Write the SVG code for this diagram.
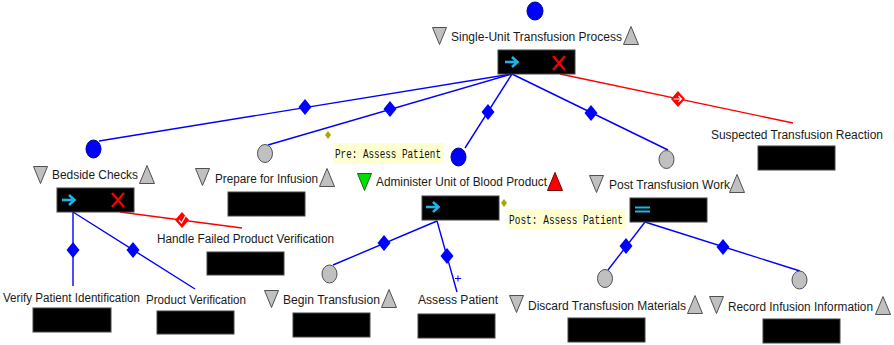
<svg xmlns="http://www.w3.org/2000/svg" xmlns:xlink="http://www.w3.org/1999/xlink" width="894" height="345" viewBox="0 0 894 345">
  <style>
    .lbl { font-family: "Liberation Sans", Arial, sans-serif; font-size: 12.5px; fill: #1a1a1a; }
    .cond { font-family: "Liberation Mono", "Courier New", monospace; font-size: 12px; fill: #111; }
    .condbg { fill: #ffffd2; }
    .box { fill: #000; stroke: #444; stroke-width: 1; }
    .gray { fill: #c0c0c0; stroke: #505050; stroke-width: 1; }
    .blue { fill: #0000ff; stroke: #000090; stroke-width: 1; }
    .edge { stroke: #0000ff; stroke-width: 1.4; fill: none; }
    .edge-red { stroke: #ff0000; stroke-width: 1.4; fill: none; }
    .seq { stroke: #1eb4e6; stroke-width: 2.6; fill: none; stroke-linecap: butt; }
    .fail { stroke: #ff0000; stroke-width: 2.2; fill: none; }
  </style>
  <defs>
    <path id="dia" d="M0,-8 L6.5,0 L0,8 L-6.5,0 Z" fill="#0000ff"/>
    <path id="dia-red" d="M0,-8 L7,0 L0,8 L-7,0 Z" fill="#ff0000"/>
    <path id="cdia" d="M0,-4 L3,0 L0,4 L-3,0 Z" fill="#a8a800"/>
    <path id="tdown" d="M0.5,0.5 H14.5 L7.5,17.5 Z"/>
    <path id="tup" d="M8,0.5 L15.5,18.5 H0.5 Z"/>
    <!-- sequential-flow arrow drawn inside a task bar, origin at the arrow's left end -->
    <g id="arrow">
      <path class="seq" d="M0,0 H12"/>
      <path class="seq" d="M7,-5 L12.5,0 L7,5"/>
    </g>
    <!-- red cross marking a failure handler -->
    <g id="cross">
      <path class="fail" d="M0,0 L12,14 M12,0 L0,14"/>
    </g>
  </defs>

  <rect width="894" height="345" fill="#ffffff"/>

  <!-- connectors -->
  <g id="connectors">
    <path class="edge" d="M512,74 L99,141"/>
    <path class="edge" d="M512,74 L268,145"/>
    <path class="edge" d="M512,74 L465,148"/>
    <path class="edge" d="M512,74 L668,150"/>
    <path class="edge-red" d="M560,74 L793,123"/>
    <path class="edge" d="M73,212 L73,286"/>
    <path class="edge" d="M73,212 L195,289"/>
    <path class="edge-red" d="M120,212 L242,228"/>
    <path class="edge" d="M437,221 L333,265"/>
    <path class="edge" d="M437,221 L457,292"/>
    <path class="edge" d="M645,222 L608,270"/>
    <path class="edge" d="M645,222 L800,271"/>

    <use href="#dia" x="305" y="107"/>
    <use href="#dia" x="390" y="109"/>
    <use href="#dia" x="488" y="112"/>
    <use href="#dia" x="591" y="113"/>
    <use href="#dia" x="73" y="250"/>
    <use href="#dia" x="133" y="250"/>
    <use href="#dia" x="384" y="243"/>
    <use href="#dia" x="447" y="256"/>
    <use href="#dia" x="626" y="246"/>
    <use href="#dia" x="723" y="247"/>

    <!-- exception handler decorators -->
    <use href="#dia-red" x="678" y="99"/>
    <path d="M673.5,99 H681 M678.5,96 L681.5,99 L678.5,102" stroke="#fff" stroke-width="1.2" fill="none"/>
    <use href="#dia-red" x="182" y="220"/>
    <path d="M179,220 L181.5,223 L185.5,216" stroke="#fff" stroke-width="1.2" fill="none"/>

    <!-- repetition mark -->
    <path d="M458,275.5 V281.5 M455,278.5 H461" stroke="#0000ff" stroke-width="1"/>

    <!-- pre / post conditions -->
    <use href="#cdia" x="328" y="135"/>
    <use href="#cdia" x="504" y="203"/>
  </g>

  <!-- Single-Unit Transfusion Process -->
  <g id="single-unit-transfusion-process">
    <ellipse class="blue" cx="535" cy="11" rx="8" ry="9"/>
    <use href="#tdown" x="432" y="27" class="gray"/>
    <text class="lbl" x="451" y="41" textLength="171" lengthAdjust="spacingAndGlyphs">Single-Unit Transfusion Process</text>
    <use href="#tup" x="623" y="26" class="gray"/>
    <rect class="box" x="498" y="50" width="77" height="24"/>
    <use href="#arrow" x="505" y="62"/>
    <use href="#cross" x="553" y="56"/>
  </g>

  <!-- Bedside Checks -->
  <g id="bedside-checks">
    <ellipse class="blue" cx="93.5" cy="149" rx="7.5" ry="9"/>
    <use href="#tdown" x="33" y="166" class="gray"/>
    <text class="lbl" x="52" y="179" textLength="86" lengthAdjust="spacingAndGlyphs">Bedside Checks</text>
    <use href="#tup" x="139" y="165" class="gray"/>
    <rect class="box" x="57" y="188" width="77" height="24"/>
    <use href="#arrow" x="62" y="200"/>
    <use href="#cross" x="112" y="193"/>
  </g>

  <!-- Prepare for Infusion -->
  <g id="prepare-for-infusion">
    <ellipse class="gray" cx="265" cy="153.5" rx="7.5" ry="9"/>
    <use href="#tdown" x="195" y="168" class="gray"/>
    <text class="lbl" x="215" y="183" textLength="103" lengthAdjust="spacingAndGlyphs">Prepare for Infusion</text>
    <use href="#tup" x="319" y="168" class="gray"/>
    <rect class="box" x="228" y="192" width="77" height="24"/>
  </g>

  <!-- Handle Failed Product Verification -->
  <g id="handle-failed-product-verification">
    <text class="lbl" x="157" y="243" textLength="177" lengthAdjust="spacingAndGlyphs">Handle Failed Product Verification</text>
    <rect class="box" x="207" y="252" width="77" height="23"/>
  </g>

  <!-- Administer Unit of Blood Product -->
  <g id="administer-unit-of-blood-product">
    <rect class="condbg" x="333" y="143" width="111" height="21"/>
    <text class="cond" x="335" y="158" textLength="106" lengthAdjust="spacingAndGlyphs">Pre: Assess Patient</text>
    <ellipse class="blue" cx="458.5" cy="157" rx="7.5" ry="9"/>
    <use href="#tdown" x="357" y="173" fill="#00e000" stroke="#206020" stroke-width="1"/>
    <text class="lbl" x="376" y="186" textLength="171" lengthAdjust="spacingAndGlyphs">Administer Unit of Blood Product</text>
    <use href="#tup" x="547" y="172" fill="#ff0000" stroke="#700000" stroke-width="1"/>
    <rect class="box" x="422" y="196" width="77" height="24"/>
    <use href="#arrow" x="426" y="207"/>
    <rect class="condbg" x="508" y="209" width="117" height="21"/>
    <text class="cond" x="509" y="224" textLength="114" lengthAdjust="spacingAndGlyphs">Post: Assess Patient</text>
  </g>

  <!-- Post Transfusion Work -->
  <g id="post-transfusion-work">
    <ellipse class="gray" cx="666.5" cy="159.5" rx="7.5" ry="9"/>
    <use href="#tdown" x="589" y="175" class="gray"/>
    <text class="lbl" x="609" y="189" textLength="121" lengthAdjust="spacingAndGlyphs">Post Transfusion Work</text>
    <use href="#tup" x="729" y="174" class="gray"/>
    <rect class="box" x="630" y="198" width="77" height="24"/>
    <path d="M635,207.5 H650 M635,211.5 H650" stroke="#1eb4e6" stroke-width="2"/>
  </g>

  <!-- Suspected Transfusion Reaction -->
  <g id="suspected-transfusion-reaction">
    <text class="lbl" x="711" y="139" textLength="172" lengthAdjust="spacingAndGlyphs">Suspected Transfusion Reaction</text>
    <rect class="box" x="758" y="146" width="77" height="24"/>
  </g>

  <!-- Verify Patient Identification -->
  <g id="verify-patient-identification">
    <text class="lbl" x="3" y="302" textLength="137" lengthAdjust="spacingAndGlyphs">Verify Patient Identification</text>
    <rect class="box" x="33" y="308" width="78" height="24"/>
  </g>

  <!-- Product Verification -->
  <g id="product-verification">
    <text class="lbl" x="146" y="304" textLength="100" lengthAdjust="spacingAndGlyphs">Product Verification</text>
    <rect class="box" x="157" y="311" width="77" height="23"/>
  </g>

  <!-- Begin Transfusion -->
  <g id="begin-transfusion">
    <ellipse class="gray" cx="329.5" cy="274" rx="7.5" ry="9"/>
    <use href="#tdown" x="264" y="290" class="gray"/>
    <text class="lbl" x="283" y="304" textLength="97" lengthAdjust="spacingAndGlyphs">Begin Transfusion</text>
    <use href="#tup" x="381" y="289" class="gray"/>
    <rect class="box" x="293" y="313" width="77" height="24"/>
  </g>

  <!-- Assess Patient -->
  <g id="assess-patient">
    <text class="lbl" x="418" y="304" textLength="80" lengthAdjust="spacingAndGlyphs">Assess Patient</text>
    <rect class="box" x="418" y="314" width="77" height="24"/>
  </g>

  <!-- Discard Transfusion Materials -->
  <g id="discard-transfusion-materials">
    <ellipse class="gray" cx="605" cy="278.5" rx="7.5" ry="9"/>
    <use href="#tdown" x="509" y="295" class="gray"/>
    <text class="lbl" x="528" y="310" textLength="158" lengthAdjust="spacingAndGlyphs">Discard Transfusion Materials</text>
    <use href="#tup" x="687" y="295" class="gray"/>
    <rect class="box" x="568" y="318" width="77" height="24"/>
  </g>

  <!-- Record Infusion Information -->
  <g id="record-infusion-information">
    <ellipse class="gray" cx="799.5" cy="280" rx="7.5" ry="9"/>
    <use href="#tdown" x="709" y="296" class="gray"/>
    <text class="lbl" x="728" y="311" textLength="145" lengthAdjust="spacingAndGlyphs">Record Infusion Information</text>
    <use href="#tup" x="875" y="296" class="gray"/>
    <rect class="box" x="763" y="319" width="77" height="24"/>
  </g>
</svg>
